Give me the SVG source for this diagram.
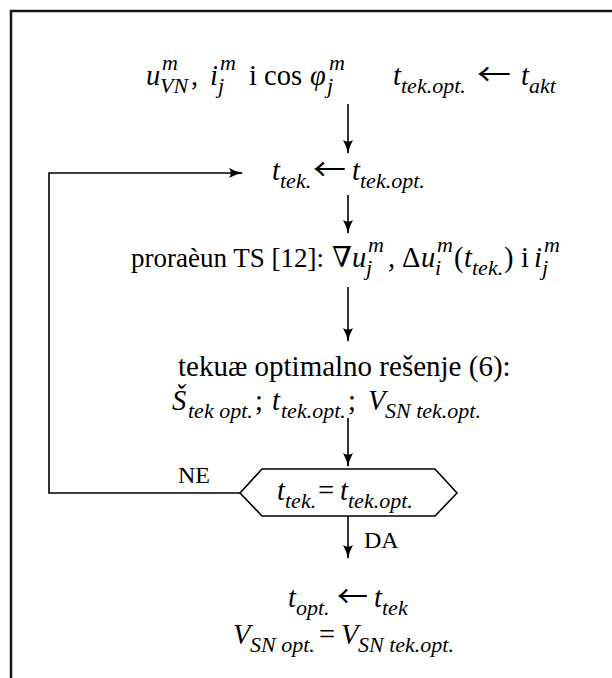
<svg xmlns="http://www.w3.org/2000/svg" width="612" height="678" viewBox="0 0 612 678">
  <style>
    .m { font-family: "Liberation Serif", "Times New Roman", "DejaVu Serif", serif; font-size: 28.5px; fill: #000; }
    .i { font-style: italic; }
    .s { font-size: 22px; font-style: italic; }
    .ar { font-family: "Noto Sans CJK SC", "DejaVu Sans", sans-serif; font-size: 30px; fill: #000; }
    .lbl { font-family: "Liberation Serif", "Times New Roman", serif; font-size: 24px; fill: #000; }
    .ln { fill: none; stroke: #000; stroke-width: 1.6; }
  </style>
  <defs>
    <marker id="ah" viewBox="0 0 14 10" refX="13" refY="5" markerWidth="14" markerHeight="10" orient="auto" markerUnits="userSpaceOnUse">
      <path d="M0,0 Q7,4 14,5 Q7,6 0,10 Q3.5,5 0,0 Z" fill="#000"/>
    </marker>
  </defs>

  <rect width="612" height="678" fill="#fff"/>
  <!-- page frame (left and top edges) -->
  <path d="M11,678 V11 H612" fill="none" stroke="#151515" stroke-width="2.5"/>

  <!-- inputs -->
  <g id="inputs">
    <text class="m">
      <tspan class="i" x="146" y="85">u</tspan><tspan class="s" x="162" y="70">m</tspan><tspan class="s" x="160" y="93">VN</tspan><tspan x="191" y="85">,</tspan><tspan class="i" x="210" y="85">i</tspan><tspan class="s" x="220" y="70">m</tspan><tspan class="s" x="218" y="93">j</tspan><tspan x="249" y="85">i</tspan><tspan x="264" y="85">cos</tspan><tspan class="i" x="310" y="85">φ</tspan><tspan class="s" x="329" y="70">m</tspan><tspan class="s" x="327" y="93">j</tspan>
    </text>
    <text class="m">
      <tspan class="i" x="393" y="85">t</tspan><tspan class="s" x="401" y="93">tek.opt.</tspan><tspan class="i" x="521" y="85">t</tspan><tspan class="s" x="529" y="93">akt</tspan>
    </text>
    <text class="ar" x="477" y="85" textLength="34" lengthAdjust="spacingAndGlyphs">←</text>
  </g>

  <!-- current time assignment -->
  <g id="assign-tek">
    <text class="m">
      <tspan class="i" x="272" y="180">t</tspan><tspan class="s" x="280" y="188">tek.</tspan><tspan class="i" x="352" y="180">t</tspan><tspan class="s" x="360" y="188">tek.opt.</tspan>
    </text>
    <text class="ar" x="313" y="180" textLength="33" lengthAdjust="spacingAndGlyphs">←</text>
  </g>

  <!-- state calculation -->
  <g id="ts-calc">
    <text class="m">
      <tspan x="131" y="267" style="font-size:27px">proraèun TS [12]:</tspan><tspan x="332" y="267">∇</tspan><tspan class="i" x="352" y="267">u</tspan><tspan class="s" x="368" y="252">m</tspan><tspan class="s" x="366" y="275">j</tspan><tspan x="388" y="267">,</tspan><tspan x="402" y="267">Δ</tspan><tspan class="i" x="421" y="267">u</tspan><tspan class="s" x="437" y="252">m</tspan><tspan class="s" x="435" y="275">i</tspan><tspan x="454" y="267">(</tspan><tspan class="i" x="464" y="267">t</tspan><tspan class="s" x="472" y="275">tek.</tspan><tspan x="504" y="267">)</tspan><tspan x="521" y="267">i</tspan><tspan class="i" x="534" y="267">i</tspan><tspan class="s" x="544" y="252">m</tspan><tspan class="s" x="542" y="275">j</tspan>
    </text>
  </g>

  <!-- current optimal solution -->
  <g id="current-optimum">
    <text class="m" x="178" y="376" style="font-size:29px">tekuæ optimalno rešenje (6):</text>
    <text class="m">
      <tspan class="i" x="172" y="410">Š</tspan><tspan class="s" x="188" y="418">tek opt.</tspan><tspan x="255" y="410">;</tspan><tspan class="i" x="272" y="410">t</tspan><tspan class="s" x="281" y="418">tek.opt.</tspan><tspan x="348" y="410">;</tspan><tspan class="i" x="368" y="410">V</tspan><tspan class="s" x="385" y="418">SN tek.opt.</tspan>
    </text>
  </g>

  <!-- decision -->
  <g id="decision">
    <polygon class="ln" points="240,493 262,469 435,469 457,493 435,516 262,516" fill="#fff"/>
    <text class="m">
      <tspan class="i" x="277" y="500">t</tspan><tspan class="s" x="285" y="508">tek.</tspan><tspan x="318" y="500">=</tspan><tspan class="i" x="340" y="500">t</tspan><tspan class="s" x="348" y="508">tek.opt.</tspan>
    </text>
  </g>

  <!-- result -->
  <g id="result">
    <text class="m">
      <tspan class="i" x="288" y="607">t</tspan><tspan class="s" x="296" y="615">opt.</tspan><tspan class="i" x="374" y="607">t</tspan><tspan class="s" x="382" y="615">tek</tspan>
    </text>
    <text class="ar" x="337" y="607" textLength="31" lengthAdjust="spacingAndGlyphs">←</text>
    <text class="m">
      <tspan class="i" x="233" y="644">V</tspan><tspan class="s" x="250" y="652">SN opt.</tspan><tspan x="319" y="644">=</tspan><tspan class="i" x="341" y="644">V</tspan><tspan class="s" x="358" y="652">SN tek.opt.</tspan>
    </text>
  </g>

  <!-- connectors -->
  <g id="connectors">
    <line class="ln" x1="348" y1="104" x2="348" y2="153" marker-end="url(#ah)"/>
    <line class="ln" x1="348" y1="195" x2="348" y2="233" marker-end="url(#ah)"/>
    <line class="ln" x1="348" y1="287" x2="348" y2="341" marker-end="url(#ah)"/>
    <line class="ln" x1="348" y1="418" x2="348" y2="466" marker-end="url(#ah)"/>
    <line class="ln" x1="348" y1="516" x2="348" y2="558" marker-end="url(#ah)"/>
    <polyline class="ln" points="240,493 49,493 49,173 242,173" marker-end="url(#ah)"/>
    <text class="lbl" x="178" y="483">NE</text>
    <text class="lbl" x="364" y="548">DA</text>
  </g>
</svg>
